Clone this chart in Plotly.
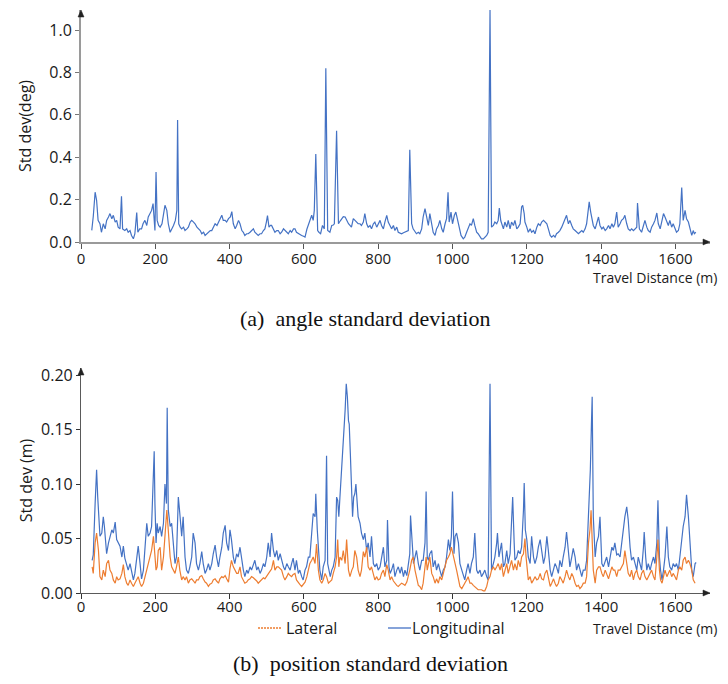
import plotly.graph_objects as go

# ---- angle standard deviation (deg) vs travel distance (m) ----
angle_dist = [29, 33, 38, 42, 46, 51, 55, 60, 65, 69, 74, 78, 83, 87, 92, 96, 100, 105, 109, 112,
              118, 123, 127, 132, 136, 141, 145, 150, 153, 158, 163, 167, 172, 177, 181, 186, 190, 194, 197, 199,
              202, 205, 209, 213, 218, 222, 226, 231, 235, 240, 245, 249, 254, 258, 260, 263, 267, 271, 276, 280,
              285, 289, 294, 298, 303, 307, 312, 316, 321, 325, 330, 334, 339, 343, 348, 352, 357, 361, 366, 370,
              374, 379, 383, 388, 392, 397, 402, 406, 410, 415, 419, 424, 428, 433, 437, 441, 446, 450, 455, 459,
              464, 468, 473, 477, 482, 486, 491, 495, 499, 502, 506, 510, 513, 518, 522, 527, 531, 536, 540, 545,
              549, 554, 558, 563, 567, 572, 576, 580, 585, 590, 594, 599, 603, 608, 612, 616, 621, 625, 628, 632,
              635, 637, 641, 645, 650, 655, 659, 662, 664, 670, 675, 679, 682, 688, 691, 693, 698, 702, 706, 711,
              715, 720, 724, 728, 733, 737, 742, 746, 751, 755, 760, 764, 769, 773, 778, 782, 787, 791, 796, 800,
              805, 809, 814, 818, 823, 827, 832, 836, 841, 845, 850, 854, 859, 863, 868, 872, 877, 881, 885, 888,
              890, 894, 899, 903, 908, 912, 917, 921, 926, 930, 935, 939, 944, 948, 953, 957, 962, 966, 971, 975,
              980, 984, 988, 991, 996, 1000, 1005, 1009, 1014, 1018, 1023, 1029, 1033, 1038, 1042, 1047, 1051, 1056, 1060, 1065,
              1069, 1074, 1078, 1083, 1087, 1092, 1096, 1101, 1105, 1110, 1114, 1119, 1123, 1126, 1130, 1132, 1137, 1141, 1146, 1150,
              1155, 1159, 1164, 1168, 1173, 1177, 1182, 1186, 1189, 1193, 1195, 1200, 1204, 1209, 1213, 1218, 1222, 1227, 1231, 1236,
              1240, 1245, 1249, 1254, 1258, 1263, 1267, 1272, 1276, 1280, 1285, 1289, 1294, 1298, 1303, 1307, 1312, 1316, 1321, 1325,
              1330, 1334, 1339, 1343, 1348, 1352, 1357, 1361, 1366, 1368, 1372, 1376, 1379, 1384, 1388, 1393, 1397, 1402, 1406, 1411,
              1415, 1420, 1424, 1429, 1433, 1437, 1442, 1446, 1451, 1455, 1460, 1464, 1469, 1473, 1478, 1482, 1487, 1491, 1496, 1498,
              1503, 1509, 1514, 1518, 1523, 1527, 1532, 1536, 1541, 1545, 1550, 1554, 1559, 1563, 1568, 1572, 1577, 1581, 1585, 1590,
              1594, 1599, 1603, 1608, 1612, 1617, 1621, 1626, 1630, 1635, 1639, 1644, 1648, 1651, 1655]
angle_std = [0.055, 0.120, 0.235, 0.197, 0.102, 0.086, 0.046, 0.086, 0.062, 0.102, 0.118, 0.134, 0.110, 0.126, 0.094, 0.102, 0.070, 0.062, 0.216, 0.062,
             0.054, 0.062, 0.046, 0.054, 0.031, 0.015, 0.039, 0.139, 0.046, 0.062, 0.062, 0.086, 0.102, 0.078, 0.118, 0.134, 0.149, 0.181, 0.118, 0.054,
             0.330, 0.102, 0.078, 0.070, 0.086, 0.134, 0.173, 0.149, 0.086, 0.046, 0.062, 0.078, 0.102, 0.149, 0.575, 0.086, 0.070, 0.062, 0.070, 0.054,
             0.062, 0.070, 0.094, 0.102, 0.094, 0.086, 0.070, 0.062, 0.054, 0.039, 0.046, 0.031, 0.039, 0.046, 0.054, 0.054, 0.070, 0.086, 0.078, 0.094,
             0.110, 0.126, 0.102, 0.102, 0.094, 0.110, 0.118, 0.143, 0.086, 0.062, 0.078, 0.102, 0.086, 0.054, 0.046, 0.031, 0.039, 0.039, 0.046, 0.054,
             0.062, 0.046, 0.039, 0.031, 0.039, 0.039, 0.054, 0.062, 0.094, 0.125, 0.070, 0.078, 0.078, 0.062, 0.046, 0.054, 0.054, 0.039, 0.046, 0.062,
             0.054, 0.046, 0.039, 0.054, 0.046, 0.062, 0.062, 0.046, 0.039, 0.035, 0.031, 0.027, 0.023, 0.060, 0.078, 0.102, 0.126, 0.102, 0.149, 0.415,
             0.090, 0.054, 0.045, 0.039, 0.078, 0.062, 0.820, 0.070, 0.054, 0.046, 0.078, 0.080, 0.086, 0.525, 0.090, 0.086, 0.100, 0.110, 0.120, 0.118,
             0.102, 0.086, 0.078, 0.070, 0.110, 0.102, 0.094, 0.086, 0.086, 0.078, 0.094, 0.134, 0.086, 0.070, 0.078, 0.062, 0.086, 0.094, 0.070, 0.086,
             0.102, 0.078, 0.062, 0.094, 0.126, 0.094, 0.078, 0.062, 0.078, 0.054, 0.070, 0.046, 0.042, 0.039, 0.044, 0.046, 0.050, 0.054, 0.435, 0.100,
             0.086, 0.062, 0.046, 0.039, 0.046, 0.039, 0.062, 0.118, 0.157, 0.118, 0.078, 0.134, 0.086, 0.046, 0.031, 0.062, 0.078, 0.102, 0.062, 0.046,
             0.086, 0.110, 0.235, 0.094, 0.141, 0.086, 0.126, 0.141, 0.102, 0.062, 0.031, 0.015, 0.023, 0.046, 0.062, 0.086, 0.078, 0.110, 0.078, 0.046,
             0.039, 0.023, 0.015, 0.015, 0.023, 0.031, 0.046, 1.095, 0.070, 0.078, 0.094, 0.086, 0.102, 0.160, 0.100, 0.086, 0.062, 0.094, 0.070, 0.102,
             0.062, 0.094, 0.078, 0.102, 0.062, 0.070, 0.086, 0.165, 0.173, 0.134, 0.094, 0.070, 0.046, 0.062, 0.046, 0.054, 0.039, 0.070, 0.086, 0.078,
             0.094, 0.102, 0.094, 0.086, 0.062, 0.031, 0.023, 0.031, 0.023, 0.039, 0.046, 0.054, 0.070, 0.086, 0.102, 0.126, 0.086, 0.102, 0.078, 0.062,
             0.054, 0.046, 0.039, 0.046, 0.054, 0.046, 0.062, 0.086, 0.149, 0.189, 0.141, 0.102, 0.078, 0.062, 0.086, 0.118, 0.078, 0.062, 0.070, 0.054,
             0.062, 0.078, 0.062, 0.086, 0.070, 0.086, 0.141, 0.070, 0.086, 0.102, 0.110, 0.126, 0.086, 0.062, 0.054, 0.062, 0.054, 0.062, 0.070, 0.184,
             0.062, 0.046, 0.086, 0.102, 0.070, 0.054, 0.046, 0.070, 0.086, 0.102, 0.137, 0.086, 0.062, 0.102, 0.134, 0.118, 0.094, 0.078, 0.102, 0.070,
             0.086, 0.062, 0.046, 0.054, 0.086, 0.257, 0.102, 0.149, 0.110, 0.094, 0.070, 0.031, 0.054, 0.039, 0.046]

# ---- position standard deviation (m): longitudinal ----
lon_dist = [30, 33, 38, 42, 45, 47, 49, 51, 56, 60, 63, 66, 69, 74, 78, 83, 87, 92, 96, 100,
            105, 110, 114, 118, 123, 127, 132, 136, 141, 145, 150, 154, 159, 163, 168, 172, 177, 181, 186, 190,
            195, 197, 199, 202, 205, 208, 213, 217, 222, 226, 230, 232, 235, 240, 244, 249, 253, 257, 262, 266,
            271, 275, 280, 284, 289, 293, 298, 302, 307, 311, 316, 320, 325, 329, 334, 338, 343, 347, 352, 356,
            361, 365, 370, 374, 379, 383, 388, 392, 397, 401, 405, 410, 414, 419, 423, 428, 432, 437, 441, 446,
            450, 455, 459, 464, 468, 473, 477, 482, 486, 491, 495, 500, 504, 509, 513, 518, 522, 527, 531, 536,
            540, 545, 549, 554, 558, 563, 567, 571, 576, 580, 585, 589, 594, 598, 603, 607, 612, 616, 621, 625,
            630, 632, 636, 639, 643, 648, 652, 657, 661, 664, 667, 671, 675, 679, 684, 688, 691, 694, 697, 702,
            704, 708, 711, 714, 717, 720, 722, 725, 729, 731, 734, 737, 740, 743, 746, 751, 755, 760, 764, 769,
            773, 778, 782, 787, 791, 796, 800, 805, 809, 814, 818, 823, 825, 829, 832, 836, 841, 845, 850, 854,
            859, 863, 868, 872, 877, 881, 885, 887, 892, 895, 899, 903, 908, 912, 917, 921, 926, 929, 932, 935,
            939, 944, 948, 953, 957, 962, 966, 971, 975, 980, 984, 989, 993, 997, 1000, 1004, 1007, 1011, 1016, 1020,
            1025, 1029, 1033, 1038, 1042, 1047, 1051, 1056, 1060, 1065, 1069, 1074, 1078, 1083, 1087, 1092, 1096, 1101, 1105, 1110,
            1114, 1119, 1121, 1125, 1128, 1132, 1137, 1141, 1146, 1150, 1155, 1159, 1162, 1166, 1168, 1173, 1177, 1182, 1186, 1191,
            1193, 1196, 1200, 1204, 1209, 1213, 1218, 1222, 1227, 1231, 1236, 1240, 1245, 1249, 1254, 1258, 1263, 1267, 1272, 1276,
            1280, 1285, 1289, 1294, 1298, 1303, 1307, 1312, 1316, 1321, 1325, 1330, 1334, 1339, 1343, 1348, 1352, 1357, 1361, 1366,
            1368, 1371, 1374, 1376, 1379, 1384, 1388, 1393, 1397, 1402, 1406, 1411, 1415, 1420, 1424, 1429, 1433, 1437, 1442, 1446,
            1451, 1455, 1460, 1464, 1469, 1473, 1478, 1482, 1487, 1491, 1496, 1500, 1505, 1509, 1514, 1516, 1520, 1523, 1527, 1532,
            1536, 1541, 1545, 1550, 1553, 1557, 1560, 1564, 1568, 1572, 1577, 1581, 1585, 1590, 1594, 1599, 1603, 1608, 1612, 1617,
            1621, 1626, 1630, 1635, 1639, 1644, 1648, 1653, 1656]
lon_std = [0.030, 0.035, 0.082, 0.113, 0.088, 0.070, 0.061, 0.052, 0.055, 0.070, 0.061, 0.043, 0.036, 0.046, 0.052, 0.058, 0.055, 0.065, 0.049, 0.046,
           0.043, 0.033, 0.043, 0.032, 0.026, 0.021, 0.027, 0.020, 0.012, 0.018, 0.032, 0.043, 0.027, 0.013, 0.021, 0.043, 0.064, 0.052, 0.055, 0.061,
           0.104, 0.130, 0.082, 0.046, 0.064, 0.055, 0.061, 0.052, 0.064, 0.100, 0.082, 0.170, 0.076, 0.061, 0.064, 0.039, 0.027, 0.033, 0.088, 0.073,
           0.052, 0.070, 0.033, 0.021, 0.018, 0.024, 0.033, 0.055, 0.046, 0.027, 0.021, 0.027, 0.038, 0.027, 0.018, 0.021, 0.027, 0.021, 0.027, 0.036,
           0.044, 0.033, 0.024, 0.033, 0.042, 0.055, 0.062, 0.046, 0.039, 0.058, 0.049, 0.033, 0.027, 0.036, 0.033, 0.042, 0.030, 0.021, 0.015, 0.021,
           0.018, 0.024, 0.021, 0.027, 0.030, 0.021, 0.024, 0.018, 0.021, 0.027, 0.024, 0.033, 0.046, 0.033, 0.055, 0.039, 0.033, 0.039, 0.030, 0.036,
           0.030, 0.024, 0.021, 0.027, 0.024, 0.021, 0.027, 0.032, 0.021, 0.030, 0.018, 0.021, 0.015, 0.012, 0.021, 0.024, 0.033, 0.033, 0.055, 0.073,
           0.070, 0.091, 0.058, 0.036, 0.021, 0.012, 0.024, 0.030, 0.126, 0.027, 0.021, 0.015, 0.021, 0.024, 0.033, 0.088, 0.085, 0.070, 0.088, 0.113,
           0.128, 0.149, 0.168, 0.192, 0.180, 0.158, 0.155, 0.128, 0.088, 0.070, 0.088, 0.091, 0.100, 0.085, 0.070, 0.064, 0.055, 0.049, 0.055, 0.039,
           0.046, 0.033, 0.052, 0.027, 0.024, 0.027, 0.021, 0.024, 0.033, 0.042, 0.024, 0.030, 0.067, 0.024, 0.018, 0.021, 0.027, 0.015, 0.021, 0.024,
           0.018, 0.024, 0.015, 0.021, 0.016, 0.024, 0.036, 0.071, 0.039, 0.027, 0.033, 0.039, 0.027, 0.021, 0.030, 0.030, 0.046, 0.093, 0.033, 0.030,
           0.036, 0.039, 0.024, 0.030, 0.021, 0.027, 0.021, 0.015, 0.021, 0.024, 0.033, 0.049, 0.039, 0.052, 0.093, 0.036, 0.052, 0.055, 0.046, 0.027,
           0.021, 0.015, 0.012, 0.021, 0.027, 0.018, 0.027, 0.033, 0.055, 0.021, 0.018, 0.021, 0.015, 0.018, 0.021, 0.015, 0.012, 0.192, 0.021, 0.027,
           0.033, 0.046, 0.055, 0.033, 0.040, 0.046, 0.024, 0.027, 0.039, 0.027, 0.036, 0.064, 0.088, 0.046, 0.030, 0.033, 0.039, 0.036, 0.042, 0.076,
           0.101, 0.058, 0.049, 0.033, 0.027, 0.052, 0.033, 0.027, 0.033, 0.042, 0.049, 0.039, 0.027, 0.033, 0.052, 0.039, 0.021, 0.015, 0.021, 0.027,
           0.024, 0.018, 0.030, 0.024, 0.033, 0.042, 0.056, 0.036, 0.024, 0.033, 0.041, 0.033, 0.021, 0.027, 0.021, 0.015, 0.021, 0.021, 0.030, 0.067,
           0.094, 0.113, 0.155, 0.180, 0.070, 0.033, 0.046, 0.052, 0.070, 0.027, 0.024, 0.030, 0.033, 0.024, 0.033, 0.042, 0.039, 0.046, 0.035, 0.036,
           0.033, 0.046, 0.061, 0.070, 0.079, 0.067, 0.042, 0.030, 0.033, 0.027, 0.021, 0.033, 0.027, 0.021, 0.042, 0.056, 0.033, 0.021, 0.027, 0.021,
           0.027, 0.033, 0.027, 0.046, 0.085, 0.033, 0.021, 0.012, 0.021, 0.033, 0.061, 0.033, 0.024, 0.021, 0.027, 0.024, 0.027, 0.021, 0.033, 0.052,
           0.061, 0.070, 0.090, 0.070, 0.042, 0.021, 0.015, 0.027, 0.028]

# ---- position standard deviation (m): lateral ----
lat_dist = [30, 33, 38, 42, 47, 51, 56, 60, 65, 69, 74, 78, 83, 87, 92, 96, 100, 105, 110, 114,
            118, 123, 127, 132, 136, 141, 145, 150, 154, 159, 163, 168, 172, 177, 181, 186, 190, 195, 199, 202,
            205, 208, 213, 217, 222, 226, 231, 233, 237, 240, 244, 249, 253, 257, 262, 266, 271, 275, 280, 284,
            289, 293, 298, 303, 307, 311, 316, 320, 325, 329, 334, 338, 343, 347, 352, 356, 361, 365, 370, 374,
            379, 383, 388, 392, 397, 401, 405, 410, 414, 419, 423, 428, 432, 437, 441, 446, 450, 455, 459, 464,
            468, 473, 477, 482, 486, 491, 495, 500, 504, 509, 513, 518, 522, 527, 531, 536, 540, 545, 549, 554,
            558, 563, 567, 571, 576, 580, 585, 589, 594, 598, 603, 608, 612, 616, 621, 625, 630, 634, 639, 643,
            648, 652, 657, 661, 666, 670, 675, 679, 684, 688, 691, 694, 697, 702, 706, 711, 715, 720, 724, 729,
            733, 737, 742, 746, 751, 755, 760, 764, 769, 773, 778, 782, 787, 791, 796, 800, 805, 809, 814, 818,
            823, 827, 832, 836, 841, 845, 850, 854, 859, 863, 868, 872, 877, 881, 885, 890, 894, 899, 903, 908,
            912, 917, 921, 926, 929, 932, 935, 939, 944, 948, 953, 957, 962, 966, 971, 975, 980, 984, 989, 993,
            997, 1002, 1007, 1011, 1016, 1020, 1025, 1029, 1033, 1038, 1042, 1047, 1051, 1056, 1060, 1065, 1069, 1074, 1078, 1083,
            1087, 1092, 1096, 1101, 1105, 1110, 1114, 1119, 1123, 1128, 1132, 1137, 1141, 1146, 1150, 1155, 1159, 1164, 1168, 1173,
            1177, 1182, 1186, 1191, 1195, 1198, 1202, 1204, 1209, 1213, 1218, 1222, 1227, 1231, 1236, 1240, 1245, 1249, 1254, 1258,
            1263, 1267, 1272, 1276, 1280, 1285, 1289, 1294, 1298, 1303, 1307, 1312, 1316, 1321, 1325, 1330, 1334, 1339, 1343, 1348,
            1352, 1357, 1361, 1366, 1370, 1373, 1376, 1379, 1384, 1388, 1393, 1397, 1402, 1406, 1411, 1415, 1420, 1424, 1429, 1433,
            1437, 1442, 1446, 1451, 1455, 1460, 1464, 1469, 1473, 1478, 1482, 1487, 1491, 1496, 1500, 1505, 1509, 1514, 1518, 1523,
            1527, 1532, 1536, 1541, 1545, 1550, 1553, 1557, 1560, 1564, 1568, 1572, 1577, 1581, 1585, 1590, 1594, 1599, 1603, 1608,
            1612, 1617, 1621, 1626, 1630, 1635, 1639, 1644, 1648, 1653]
lat_std = [0.024, 0.018, 0.046, 0.055, 0.039, 0.015, 0.012, 0.021, 0.015, 0.027, 0.030, 0.021, 0.018, 0.012, 0.009, 0.015, 0.012, 0.013, 0.018, 0.026,
           0.015, 0.009, 0.007, 0.012, 0.009, 0.006, 0.009, 0.012, 0.015, 0.009, 0.006, 0.009, 0.015, 0.021, 0.027, 0.033, 0.039, 0.052, 0.033, 0.021,
           0.024, 0.039, 0.042, 0.021, 0.033, 0.052, 0.076, 0.067, 0.046, 0.033, 0.024, 0.021, 0.018, 0.024, 0.033, 0.021, 0.012, 0.015, 0.012, 0.015,
           0.009, 0.012, 0.013, 0.011, 0.009, 0.012, 0.012, 0.015, 0.016, 0.013, 0.010, 0.009, 0.006, 0.008, 0.009, 0.012, 0.013, 0.011, 0.009, 0.013,
           0.015, 0.014, 0.016, 0.013, 0.010, 0.022, 0.030, 0.024, 0.021, 0.018, 0.018, 0.024, 0.015, 0.012, 0.009, 0.010, 0.012, 0.013, 0.015, 0.014,
           0.013, 0.011, 0.009, 0.011, 0.012, 0.014, 0.013, 0.016, 0.018, 0.020, 0.022, 0.030, 0.021, 0.024, 0.024, 0.022, 0.021, 0.015, 0.012, 0.015,
           0.018, 0.016, 0.015, 0.017, 0.018, 0.012, 0.009, 0.008, 0.006, 0.008, 0.010, 0.015, 0.021, 0.027, 0.030, 0.033, 0.027, 0.045, 0.021, 0.012,
           0.009, 0.012, 0.018, 0.015, 0.009, 0.010, 0.012, 0.018, 0.024, 0.033, 0.049, 0.024, 0.033, 0.030, 0.039, 0.027, 0.049, 0.021, 0.015, 0.021,
           0.024, 0.039, 0.033, 0.021, 0.015, 0.021, 0.038, 0.033, 0.042, 0.024, 0.021, 0.024, 0.018, 0.012, 0.015, 0.012, 0.013, 0.018, 0.021, 0.015,
           0.026, 0.021, 0.012, 0.015, 0.011, 0.009, 0.007, 0.006, 0.008, 0.009, 0.008, 0.007, 0.010, 0.015, 0.021, 0.030, 0.033, 0.021, 0.015, 0.007,
           0.006, 0.003, 0.009, 0.021, 0.033, 0.021, 0.027, 0.033, 0.018, 0.015, 0.009, 0.013, 0.009, 0.015, 0.012, 0.018, 0.024, 0.030, 0.033, 0.036,
           0.042, 0.033, 0.027, 0.021, 0.012, 0.006, 0.004, 0.006, 0.009, 0.012, 0.015, 0.009, 0.009, 0.007, 0.006, 0.004, 0.003, 0.003, 0.003, 0.002,
           0.002, 0.006, 0.012, 0.015, 0.021, 0.024, 0.021, 0.024, 0.027, 0.021, 0.027, 0.015, 0.021, 0.027, 0.018, 0.024, 0.030, 0.021, 0.027, 0.021,
           0.030, 0.024, 0.033, 0.036, 0.050, 0.033, 0.021, 0.012, 0.015, 0.009, 0.012, 0.015, 0.012, 0.013, 0.018, 0.013, 0.012, 0.018, 0.021, 0.015,
           0.006, 0.009, 0.013, 0.009, 0.006, 0.009, 0.015, 0.012, 0.009, 0.015, 0.021, 0.015, 0.012, 0.018, 0.015, 0.009, 0.006, 0.007, 0.004, 0.006,
           0.009, 0.009, 0.015, 0.046, 0.058, 0.076, 0.052, 0.021, 0.009, 0.021, 0.024, 0.024, 0.018, 0.015, 0.021, 0.018, 0.013, 0.018, 0.024, 0.021,
           0.021, 0.015, 0.021, 0.021, 0.024, 0.027, 0.039, 0.027, 0.018, 0.015, 0.021, 0.012, 0.018, 0.021, 0.015, 0.012, 0.018, 0.021, 0.015, 0.012,
           0.015, 0.018, 0.021, 0.015, 0.012, 0.033, 0.049, 0.021, 0.012, 0.009, 0.015, 0.021, 0.015, 0.018, 0.021, 0.015, 0.018, 0.015, 0.012, 0.021,
           0.024, 0.021, 0.030, 0.033, 0.027, 0.030, 0.027, 0.021, 0.012, 0.009]

x_ticks = [0, 200, 400, 600, 800, 1000, 1200, 1400, 1600]
angle_ticks = [0.0, 0.2, 0.4, 0.6, 0.8, 1.0]
pos_ticks = [0.00, 0.05, 0.10, 0.15, 0.20]

W, H = 728, 684
BLUE = "#4472C4"
ORANGE = "#ED7D31"
TICK_FONT = dict(family="Open Sans, Noto Sans, sans-serif", size=16, color="#1a1a1a")
XTICK_FONT = dict(family="Open Sans, Noto Sans, sans-serif", size=15, color="#1a1a1a")


def px(x):
    return x / W


def py(y):
    return 1 - y / H


fig = go.Figure()

fig.add_trace(go.Scatter(x=angle_dist, y=angle_std, mode="lines",
                         line=dict(color=BLUE, width=1.2), xaxis="x", yaxis="y",
                         showlegend=False))
fig.add_trace(go.Scatter(x=lon_dist, y=lon_std, mode="lines",
                         line=dict(color=BLUE, width=1.2), xaxis="x2", yaxis="y2",
                         showlegend=False))
fig.add_trace(go.Scatter(x=lat_dist, y=lat_std, mode="lines",
                         line=dict(color=ORANGE, width=1.2), xaxis="x2", yaxis="y2",
                         showlegend=False))

x_left, x_right = 81, 710
x_max = (x_right - x_left) / 0.3715

top_axis_col = "#9a9a9a"
bot_axis_col = "#5a5a5a"

common_x = dict(range=[0, x_max], tickvals=x_ticks, showgrid=False, zeroline=False,
                showline=True, ticks="outside", ticklen=5, tickfont=XTICK_FONT,
                automargin=False, domain=[px(x_left), px(x_right)])

fig.update_layout(
    template="none",
    width=W, height=H,
    margin=dict(l=0, r=0, t=0, b=0, autoexpand=False),
    paper_bgcolor="white", plot_bgcolor="white",
    showlegend=False,
    xaxis=dict(common_x, anchor="y", linecolor=top_axis_col, linewidth=2,
               tickcolor="#555555", tickwidth=1, ticklabelstandoff=-3),
    yaxis=dict(range=[0, (242 - 10) / 212], domain=[py(242), py(10)], anchor="x",
               tickvals=angle_ticks, tickformat=".1f", showgrid=False, zeroline=False,
               showline=True, linecolor=top_axis_col, linewidth=2, ticks="outside",
               ticklen=4, tickcolor="#777777", tickfont=TICK_FONT, automargin=False,
               title=dict(text="Std dev(deg)", font=TICK_FONT, standoff=14)),
    xaxis2=dict(common_x, anchor="y2", linecolor=bot_axis_col, linewidth=1.2,
                tickcolor="#333333", tickwidth=1, ticklabelstandoff=-5),
    yaxis2=dict(range=[0, (593 - 368) / 1090], domain=[py(593), py(368)], anchor="x2",
                tickvals=pos_ticks, tickformat=".2f", showgrid=False, zeroline=False,
                showline=True, linecolor=bot_axis_col, linewidth=1.2, ticks="outside",
                ticklen=4, tickcolor="#333333", tickfont=TICK_FONT, automargin=False,
                title=dict(text="Std dev (m)", font=TICK_FONT, standoff=4)),
)

# axis arrowheads
arrows = [
    (x_left, 10, "up"), (x_right, 242, "right"),
    (x_left, 368, "up"), (x_right, 593, "right"),
]
for ax_x, ax_y, d in arrows:
    if d == "up":
        pts = [(ax_x - 3, ax_y + 7), (ax_x + 3, ax_y + 7), (ax_x, ax_y)]
    else:
        pts = [(ax_x - 7, ax_y - 3), (ax_x - 7, ax_y + 3), (ax_x, ax_y)]
    path = "M " + " L ".join(f"{px(a)},{py(b)}" for a, b in pts) + " Z"
    fig.add_shape(type="path", path=path, xref="paper", yref="paper",
                  fillcolor="#222222", line=dict(color="#222222", width=0.5))

LABEL_FONT = dict(family="Open Sans, Noto Sans, sans-serif", size=14, color="#1a1a1a")
for y_lab in (277, 628):
    fig.add_annotation(text="Travel Distance (m)", x=px(719), y=py(y_lab), xref="paper",
                       yref="paper", xanchor="right", yanchor="middle", showarrow=False,
                       font=LABEL_FONT)

# legend for panel (b)
LEG_FONT = dict(family="Open Sans, Noto Sans, sans-serif", size=16, color="#1a1a1a")
fig.add_shape(type="line", x0=px(258), x1=px(282), y0=py(628), y1=py(628), xref="paper",
              yref="paper", line=dict(color=ORANGE, width=1.3, dash="2px,1px"))
fig.add_annotation(text="Lateral", x=px(284), y=py(628), xref="paper", yref="paper",
                   xanchor="left", yanchor="middle", showarrow=False, font=LEG_FONT)
fig.add_shape(type="line", x0=px(388), x1=px(411), y0=py(628), y1=py(628), xref="paper",
              yref="paper", line=dict(color=BLUE, width=1.3))
fig.add_annotation(text="Longitudinal", x=px(410), y=py(628), xref="paper", yref="paper",
                   xanchor="left", yanchor="middle", showarrow=False, font=LEG_FONT)

# captions
CAP_FONT = dict(family="Liberation Serif, Times New Roman, serif", size=22, color="#111111")
fig.add_annotation(text="(a)  angle standard deviation", x=px(365), y=py(318), xref="paper",
                   yref="paper", xanchor="center", yanchor="middle", showarrow=False,
                   font=CAP_FONT)
fig.add_annotation(text="(b)  position standard deviation", x=px(370), y=py(663), xref="paper",
                   yref="paper", xanchor="center", yanchor="middle", showarrow=False,
                   font=CAP_FONT)

fig.write_html("out.html")
